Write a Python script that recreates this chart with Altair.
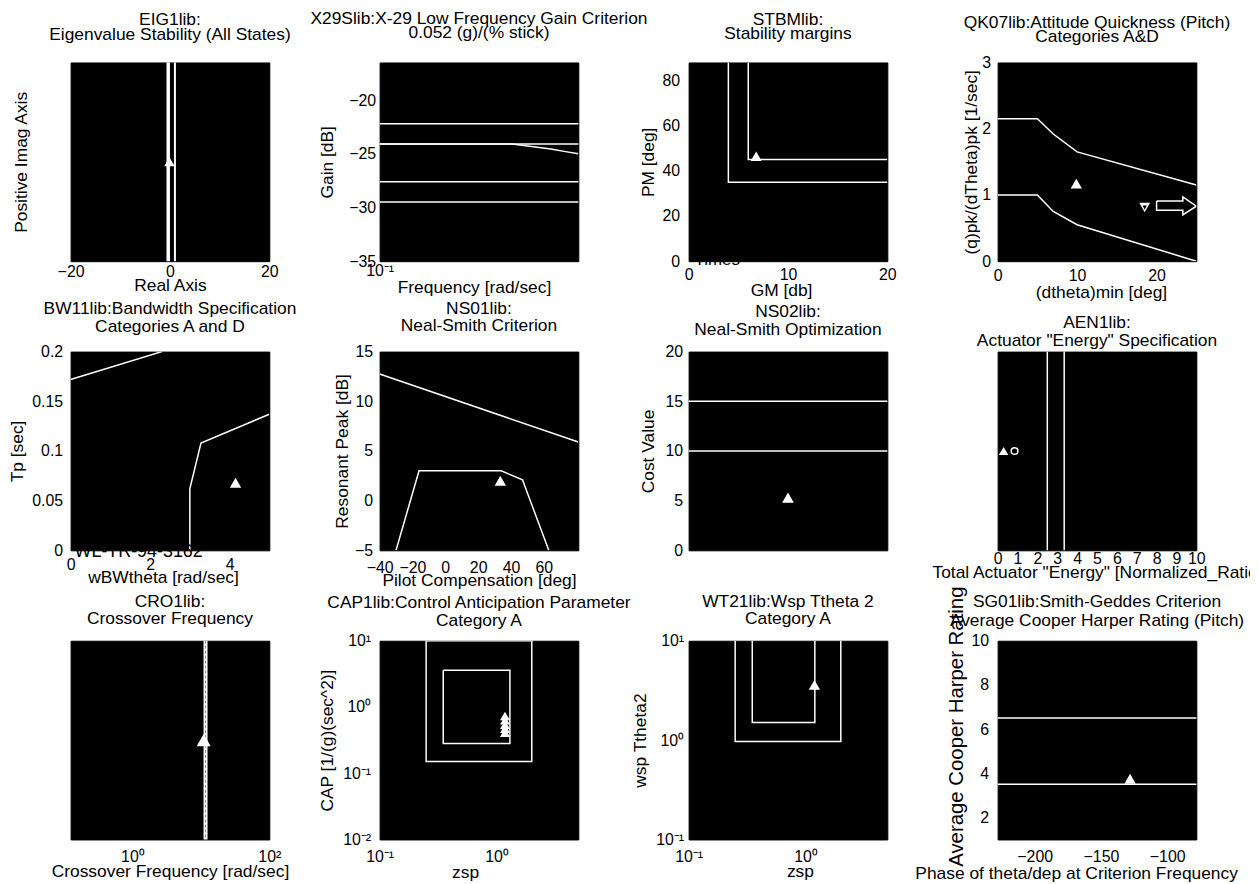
import altair as alt
import pandas as pd

FONT = "Liberation Sans"
W = 200
H = 200
TFS = 17.5   # title / axis-title font size
LFS = 16     # tick label font size

# ---------------- data ----------------
# 1 EIG1lib
eig_band_x = [-0.35]
eig_line_x = [1.0]
eig_pt_x = [-0.1]
eig_pt_y = [0.5]

# 2 X29Slib
x29_hlines = [-22.2, -24.1, -27.6, -29.5]
x29_curve_x = [0.1, 0.2, 0.3, 0.4, 0.5, 0.6, 0.7, 0.8]
x29_curve_y = [-24.1, -24.1, -24.1, -24.1, -24.35, -24.55, -24.8, -25.0]

# 3 STBMlib
stbm_a_x = [4, 4, 20]
stbm_a_y = [88, 35, 35]
stbm_b_x = [6, 6, 20]
stbm_b_y = [88, 45, 45]
stbm_pt_x = [6.8]
stbm_pt_y = [46.5]
stbm_stamp = ["Times"]

# 4 QK07lib
qk_up_x = [0, 5, 7, 10, 25]
qk_up_y = [2.15, 2.15, 1.92, 1.65, 1.15]
qk_lo_x = [0, 5, 7, 10, 25]
qk_lo_y = [1.0, 1.0, 0.75, 0.55, 0.0]
qk_pt_x = [9.9]
qk_pt_y = [1.17]
qk_dn_x = [18.5]
qk_dn_y = [0.81]
qk_arrow_x = [20, 23.3, 23.3, 25, 23.3, 23.3, 20, 20]
qk_arrow_y = [0.91, 0.91, 0.97, 0.83, 0.70, 0.77, 0.77, 0.91]

# 5 BW11lib
bw_a_x = [0, 2.3]
bw_a_y = [0.172, 0.2]
bw_b_x = [3.0, 3.0, 3.28, 5.0]
bw_b_y = [0.0, 0.062, 0.108, 0.137]
bw_pt_x = [4.15]
bw_pt_y = [0.068]
bw_stamp = ["WL-TR-94-3162"]

# 6 NS01lib
ns_up_x = [-40, 81]
ns_up_y = [12.75, 5.9]
ns_lo_x = [-30, -16, 34, 47, 63]
ns_lo_y = [-5, 3, 3, 2.1, -5]
ns_pt_x = [33.5]
ns_pt_y = [2.0]

# 7 NS02lib
ns2_hlines = [15, 10]
ns2_pt_x = [0.5]
ns2_pt_y = [5.3]

# 8 AEN1lib
aen_vlines = [2.5, 3.35]
aen_pt_x = [0.3]
aen_pt_y = [0.5]
aen_ring_x = [0.85]
aen_ring_y = [0.5]

# 9 CRO1lib
cro_vline = [11.7]
cro_pt_x = [11.0]
cro_pt_y = [0.5]

# 10 CAP1lib
cap_outer_x = [0.25, 0.25, 2.0, 2.0, 0.25]
cap_outer_y = [10, 0.15, 0.15, 10, 10]
cap_inner_x = [0.35, 1.3, 1.3, 0.35, 0.35]
cap_inner_y = [3.6, 3.6, 0.28, 0.28, 3.6]
cap_pt_x = [1.18, 1.18, 1.18, 1.18, 1.18]
cap_pt_y = [0.41, 0.47, 0.54, 0.63, 0.73]

# 11 WT21lib
wt_outer_x = [0.25, 0.25, 2.0, 2.0]
wt_outer_y = [10, 0.97, 0.97, 10]
wt_inner_x = [0.35, 0.35, 1.2, 1.2]
wt_inner_y = [10, 1.5, 1.5, 10]
wt_pt_x = [1.19]
wt_pt_y = [3.6]

# 12 SG01lib
sg_hlines = [6.5, 3.5]
sg_pt_x = [-128]
sg_pt_y = [3.75]

LOG_EXPR = ("datum.value < 0.05 ? '10⁻²' : datum.value < 0.5 ? '10⁻¹' : "
            "datum.value < 5 ? '10⁰' : datum.value < 50 ? '10¹' : '10²'")


# ---------------- helpers ----------------
def lines_df(*pairs):
    rows = []
    for g, (xs, ys) in enumerate(pairs):
        for i, (a, b) in enumerate(zip(xs, ys)):
            rows.append({"g": g, "i": i, "x": a, "y": b})
    return pd.DataFrame(rows)


def pts_df(xs, ys):
    return pd.DataFrame({"x": xs, "y": ys})


def xenc(domain, stype="linear", values=None, title=None, title_y=28, title_x=None,
         label_pad=3, expr=None, show=True):
    sc = alt.Scale(domain=domain, type=stype, nice=False, zero=False)
    if not show:
        return alt.X("x:Q", scale=sc, axis=None)
    kw = dict(labelPadding=label_pad, titleY=title_y, titleBaseline="middle")
    if title_x is not None:
        kw["titleX"] = title_x
        kw["titleAlign"] = "center"
    kw["title"] = title if title else ""
    if values is not None:
        kw["values"] = values
    if expr:
        kw["labelExpr"] = expr
    return alt.X("x:Q", scale=sc, axis=alt.Axis(**kw))


def yenc(domain, stype="linear", values=None, title=None, title_x=-45, title_y=H / 2,
         title_size=TFS, label_pad=6, expr=None, labels=True, show=True):
    sc = alt.Scale(domain=domain, type=stype, nice=False, zero=False)
    if not show:
        return alt.Y("y:Q", scale=sc, axis=None)
    kw = dict(labelPadding=label_pad, titleX=title_x, titleY=title_y, titleFontSize=title_size,
              titleBaseline="middle", titleAlign="center", labels=labels)
    kw["title"] = title if title else ""
    if values is not None:
        kw["values"] = values
    if expr:
        kw["labelExpr"] = expr
    return alt.Y("y:Q", scale=sc, axis=alt.Axis(**kw))


def line_layer(df, X, Y, width=1.5):
    return alt.Chart(df).mark_line(color="white", strokeWidth=width, clip=True).encode(
        x=X, y=Y, detail="g:N", order="i:Q")


def vrule(vals, X, width=1.5, color="white", dash=None):
    mk = dict(color=color, strokeWidth=width)
    if dash:
        mk["strokeDash"] = dash
    return alt.Chart(pd.DataFrame({"x": vals})).mark_rule(**mk).encode(x=X)


def hrule(vals, Y, width=1.5):
    return alt.Chart(pd.DataFrame({"y": vals})).mark_rule(color="white", strokeWidth=width).encode(y=Y)


def tri(xs, ys, X, Y, shape="triangle-up", size=120, color="white", filled=True):
    return alt.Chart(pts_df(xs, ys)).mark_point(
        shape=shape, filled=filled, color=color, size=size, opacity=1, clip=True,
        strokeWidth=1.5).encode(x=X, y=Y)


def stamp(txt, xpos, ypos, X, Y, size=17, dy=6):
    # black scan-stamp text straddling the bottom frame: hidden inside the black plot
    df = pd.DataFrame({"x": [xpos], "y": [ypos], "t": txt})
    return alt.Chart(df).mark_text(
        color="black", font=FONT, fontSize=size, align="left", baseline="alphabetic",
        dy=dy).encode(x=X, y=Y, text="t:N")


def panel(layers, title, offset=16, lh=16):
    return alt.layer(*layers).properties(
        width=W, height=H,
        title=alt.TitleParams(text=title, offset=offset, fontSize=TFS, font=FONT,
                              fontWeight="normal", lineHeight=lh, anchor="middle",
                              color="black"))


# ---------------- panels ----------------
# 1
X = xenc([-20, 20], values=[-20, 0, 20], title="Real Axis", title_y=25, label_pad=2)
Y = yenc([0, 1], title="Positive Imag Axis", title_x=-49, labels=False)
p1 = panel([
    vrule(eig_band_x, X, width=3.5),
    vrule(eig_line_x, X, width=2),
    tri(eig_pt_x, eig_pt_y, X, Y, size=110),
], ["EIG1lib:", "Eigenvalue Stability (All States)"], offset=17, lh=15)

# 2
X = xenc([0.1, 0.8], stype="log", values=[0.1], title="Frequency [rad/sec]", title_y=27,
         title_x=95, label_pad=1, expr=LOG_EXPR)
Y = yenc([-35, -16.5], values=[-35, -30, -25, -20], title="Gain [dB]", title_x=-52, label_pad=4)
p2 = panel([
    hrule(x29_hlines, Y),
    line_layer(lines_df((x29_curve_x, x29_curve_y)), X, Y),
], ["X29Slib:X-29 Low Frequency Gain Criterion", "0.052 (g)/(% stick)"], offset=21, lh=14)

# 3
X = xenc([0, 20], values=[0, 10, 20], title="GM [db]", title_y=30, title_x=93, label_pad=5)
Y = yenc([0, 88], values=[0, 20, 40, 60, 80], title="PM [deg]", title_x=-40, label_pad=9)
p3 = panel([
    line_layer(lines_df((stbm_a_x, stbm_a_y), (stbm_b_x, stbm_b_y)), X, Y),
    tri(stbm_pt_x, stbm_pt_y, X, Y),
    stamp(stbm_stamp, 0.6, 0, X, Y, size=17, dy=4),
], ["STBMlib:", "Stability margins"], offset=20, lh=14)

# 4
X = xenc([0, 25], values=[0, 10, 20], title="(dtheta)min [deg]", title_y=32, title_x=104, label_pad=6)
Y = yenc([0, 3], values=[0, 1, 2, 3], title="(q)pk/(dTheta)pk [1/sec]", title_x=-26, label_pad=7)
p4 = panel([
    line_layer(lines_df((qk_up_x, qk_up_y), (qk_lo_x, qk_lo_y)), X, Y),
    line_layer(lines_df((qk_arrow_x, qk_arrow_y)), X, Y, width=1.5),
    tri(qk_pt_x, qk_pt_y, X, Y, size=130),
    tri(qk_dn_x, qk_dn_y, X, Y, shape="triangle-down", size=120),
    tri(qk_dn_x, qk_dn_y, X, Y, shape="triangle-down", size=20, color="black"),
], ["QK07lib:Attitude Quickness (Pitch)", "Categories A&D"], offset=9, lh=14)

# 5
X = xenc([0, 5], values=[0, 2, 4], title="wBWtheta [rad/sec]", title_y=27, title_x=93, label_pad=6)
Y = yenc([0, 0.2], values=[0, 0.05, 0.1, 0.15, 0.2], title="Tp [sec]", title_x=-53,
         label_pad=8, expr="toString(datum.value)")
p5 = panel([
    line_layer(lines_df((bw_a_x, bw_a_y), (bw_b_x, bw_b_y)), X, Y),
    tri(bw_pt_x, bw_pt_y, X, Y, size=130),
    stamp(bw_stamp, 0.1, 0, X, Y, size=18, dy=7),
], ["BW11lib:Bandwidth Specification", "Categories A and D"], offset=8, lh=18)

# 6
X = xenc([-40, 81], values=[-40, -20, 0, 20, 40, 60], title="Pilot Compensation [deg]",
         title_y=30, label_pad=9)
Y = yenc([-5, 15], values=[-5, 0, 5, 10, 15], title="Resonant Peak [dB]", title_x=-37, label_pad=7)
p6 = panel([
    line_layer(lines_df((ns_up_x, ns_up_y), (ns_lo_x, ns_lo_y)), X, Y),
    tri(ns_pt_x, ns_pt_y, X, Y, size=130),
], ["NS01lib:", "Neal-Smith Criterion"], offset=9, lh=17)

# 7
X = xenc([0, 1], show=False)
Y = yenc([0, 20], values=[0, 5, 10, 15, 20], title="Cost Value", title_x=-40, label_pad=6)
p7 = panel([
    hrule(ns2_hlines, Y),
    tri(ns2_pt_x, ns2_pt_y, X, Y, size=140),
], ["NS02lib:", "Neal-Smith Optimization"], offset=5, lh=18)

# 8
X = xenc([0, 10], values=list(range(0, 11)), title='Total Actuator "Energy" [Normalized_Ratio]',
         title_y=22, label_pad=0)
Y = yenc([0, 1], show=False)
p8 = panel([
    vrule(aen_vlines, X),
    tri(aen_pt_x, aen_pt_y, X, Y, size=90),
    tri(aen_ring_x, aen_ring_y, X, Y, shape="circle", size=45, filled=False),
], ["AEN1lib:", 'Actuator "Energy" Specification'], offset=1, lh=19)

# 9
X = xenc([0.125, 100], stype="log", values=[1, 100], title="Crossover Frequency [rad/sec]",
         title_y=32, label_pad=9, expr=LOG_EXPR)
Y = yenc([0, 1], show=False)
p9 = panel([
    vrule(cro_vline, X, width=4),
    vrule(cro_vline, X, width=1, color="#888888", dash=[3, 2]),
    tri(cro_pt_x, cro_pt_y, X, Y, size=200),
], ["CRO1lib:", "Crossover Frequency"], offset=11, lh=17)

# 10
X = xenc([0.1, 5], stype="log", values=[0.1, 1], title="zsp", title_y=33, title_x=86,
         label_pad=9, expr=LOG_EXPR)
Y = yenc([0.01, 10], stype="log", values=[0.01, 0.1, 1, 10], title="CAP [1/(g)(sec^2)]",
         title_x=-52, label_pad=9, expr=LOG_EXPR)
p10 = panel([
    line_layer(lines_df((cap_outer_x, cap_outer_y), (cap_inner_x, cap_inner_y)), X, Y),
    tri(cap_pt_x, cap_pt_y, X, Y, size=100),
], ["CAP1lib:Control Anticipation Parameter", "Category A"], offset=3, lh=18)

# 11
X = xenc([0.1, 5], stype="log", values=[0.1, 1], title="zsp", title_y=32, title_x=112,
         label_pad=9, expr=LOG_EXPR)
Y = yenc([0.1, 10], stype="log", values=[0.1, 1, 10], title="wsp Ttheta2",
         title_x=-48, label_pad=5, expr=LOG_EXPR)
p11 = panel([
    line_layer(lines_df((wt_outer_x, wt_outer_y), (wt_inner_x, wt_inner_y)), X, Y),
    tri(wt_pt_x, wt_pt_y, X, Y, size=130),
], ["WT21lib:Wsp Ttheta 2", "Category A"], offset=5, lh=17)

# 12
X = xenc([-228, -78], values=[-200, -150, -100], title="Phase of theta/dep at Criterion Frequency",
         title_y=34, title_x=79, label_pad=9)
Y = yenc([1, 10], values=[2, 4, 6, 8, 10], title="Average Cooper Harper Rating",
         title_x=-41, title_y=86, title_size=20.5, label_pad=9)
p12 = panel([
    hrule(sg_hlines, Y),
    tri(sg_pt_x, sg_pt_y, X, Y, size=130),
], ["SG01lib:Smith-Geddes Criterion", "Average Cooper Harper Rating (Pitch)"], offset=-44, lh=19)

chart = alt.concat(
    p1, p2, p3, p4, p5, p6, p7, p8, p9, p10, p11, p12,
    columns=4, spacing={"row": 91, "column": 111}, bounds="flush",
).properties(
    autosize=alt.AutoSizeParams(type="none"),
    padding={"left": 63, "top": 52, "right": 1187, "bottom": 824},
    background="white",
).configure_view(
    fill="black", stroke="black", strokeWidth=1,
).configure_axis(
    domain=False, ticks=False, grid=False,
    labelFont=FONT, labelFontSize=LFS, labelColor="black",
    titleFont=FONT, titleFontSize=TFS, titleFontWeight="normal", titleColor="black",
    labelOverlap=False, labelBound=False, labelFlush=False,
)

chart.save("out.html", embed_options={"renderer": "svg", "actions": False})
